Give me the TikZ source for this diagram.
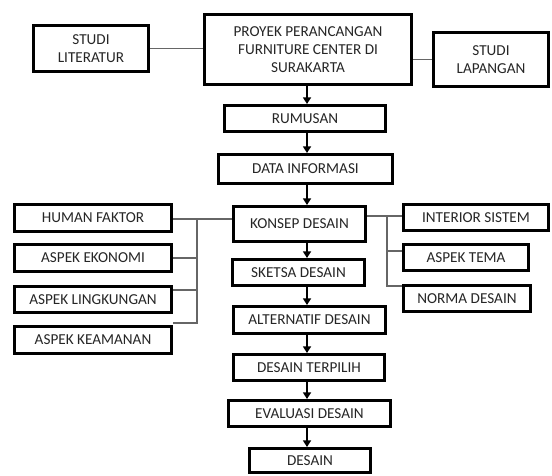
\documentclass[tikz,border=0pt]{standalone}
\usepackage{fontspec}
\setmainfont{Carlito}
\usetikzlibrary{arrows.meta}
\tikzset{
  box/.style={draw=black, line width=2.3pt, fill=white, inner sep=0pt, align=center,
    font=\fontsize{11.4pt}{13.75pt}\selectfont, text=black!85},
  thin/.style={draw=black!60, line width=0.8pt},
  arr/.style={draw=black, line width=1.3pt, -{Triangle[length=5pt,width=6pt]}}
}
\newcommand\bx[6]{\node[box, minimum width={(#4-#2)*0.75pt-2.3pt}, minimum height={(#5-#3)*0.75pt-2.3pt}] (#1) at ({(#2+#4)/2},{(#3+#5)/2}) {#6};}
\begin{document}
\begin{tikzpicture}[x=0.75pt,y=-0.75pt]
\useasboundingbox (0,0) rectangle (552,475);
% top row
\bx{lit}{32}{24}{150}{73}{STUDI\\LITERATUR}
\bx{proyek}{203}{13}{413}{86}{PROYEK PERANCANGAN\\FURNITURE CENTER DI\\SURAKARTA}
\bx{lap}{432}{31}{550}{88}{STUDI\\LAPANGAN}
% center column
\bx{rumusan}{223}{104}{387}{133}{RUMUSAN}
\bx{data}{217}{153}{394}{185}{DATA INFORMASI}
\bx{konsep}{232}{205}{367}{243}{KONSEP DESAIN}
\bx{sketsa}{231}{258}{366}{287}{SKETSA DESAIN}
\bx{alt}{232}{305}{387}{335}{ALTERNATIF DESAIN}
\bx{terpilih}{232}{353}{386}{382}{DESAIN TERPILIH}
\bx{eval}{227}{399}{392}{428}{EVALUASI DESAIN}
\bx{desain}{248}{447}{372}{474}{DESAIN}
% left column
\bx{human}{13}{203}{173}{233}{HUMAN FAKTOR}
\bx{ekonomi}{13}{243}{173}{273}{ASPEK EKONOMI}
\bx{lingkungan}{13}{285}{173}{314}{ASPEK LINGKUNGAN}
\bx{keamanan}{13}{325}{173}{355}{ASPEK KEAMANAN}
% right column
\bx{interior}{402}{203}{550}{232}{INTERIOR SISTEM}
\bx{tema}{402}{243}{530}{272}{ASPEK TEMA}
\bx{norma}{402}{284}{532}{313}{NORMA DESAIN}
% top connectors
\draw[thin] (lit.east) -- (proyek.west |- lit.east);
\draw[thin] (proyek.east |- lap.west) -- (lap.west);
% arrows
\foreach \a/\b in {proyek/rumusan, rumusan/data, data/konsep, konsep/sketsa, sketsa/alt, alt/terpilih, terpilih/eval, eval/desain}
  \draw[arr] (\a.south -| 307,0) -- (\b.north -| 307,0);
% left tree
\coordinate (lt) at (197,219);
\coordinate (lm) at (197,290);
\coordinate (lb) at (197,323);
\draw[thin] (human.east |- lt) -- (konsep.west |- lt);
\draw[thin] (lt) -- (lb) -- (lb -| keamanan.east);
\draw[thin] (ekonomi.east) -- (ekonomi.east -| lt);
\draw[thin] (lingkungan.east |- lm) -- (lm);
% right tree
\coordinate (rt) at (387,216);
\coordinate (rm) at (387,251);
\coordinate (rb) at (387,286);
\draw[thin] (konsep.east |- rt) -- (interior.west |- rt);
\draw[thin] (rt) -- (rb) -- (norma.west |- rb);
\draw[thin] (rm) -- (tema.west |- rm);
\end{tikzpicture}
\end{document}
